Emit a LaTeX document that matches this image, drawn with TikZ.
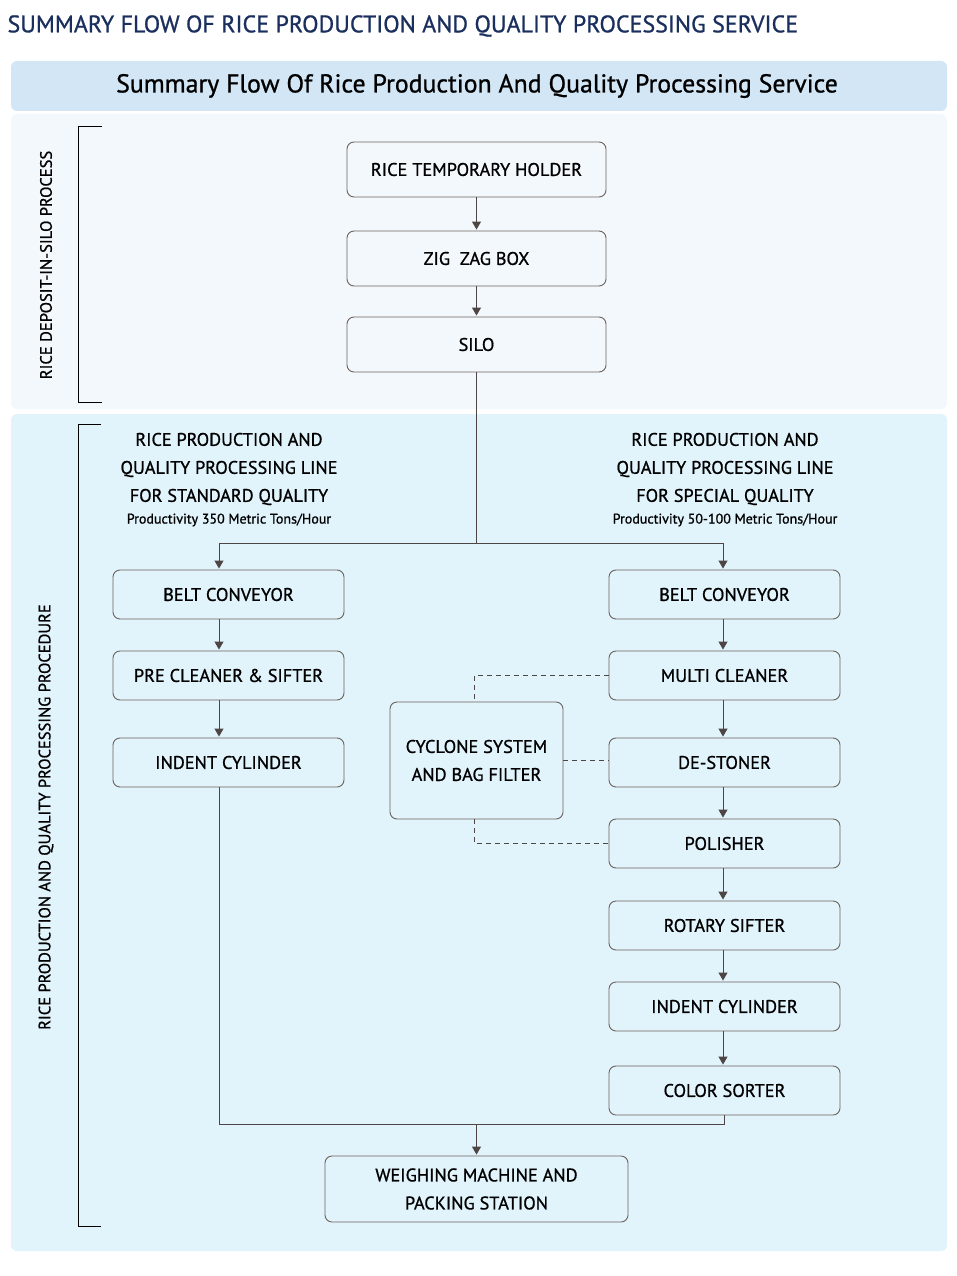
\documentclass[tikz,border=0pt]{standalone}
\usepackage{fontspec}
\setmainfont{PT Sans}[FakeBold=0.9]
\usetikzlibrary{arrows.meta,positioning}
\definecolor{navy}{HTML}{1B2F5E}
\definecolor{hdrblue}{HTML}{D3E6F5}
\definecolor{paleblue}{HTML}{F3F8FD}
\definecolor{skyblue}{HTML}{E1F3FB}
\definecolor{boxline}{HTML}{6E625B}
\definecolor{flowline}{HTML}{4E4644}
\begin{document}
\begin{tikzpicture}[
    x=1pt, y=-1pt,
    stage/.style={
      rectangle, rounded corners=7pt, draw=boxline, line width=0.9pt,
      minimum width=259pt, minimum height=55pt, text=black,
      align=center, font=\fontsize{18.3}{28}\selectfont
    },
    unit/.style={
      stage, minimum width=231pt, minimum height=49pt
    },
    heading/.style={
      align=center, font=\fontsize{18.2}{28}\selectfont
    },
    rate/.style={font=\fontsize{14}{16}\selectfont},
    side/.style={rotate=90, font=\fontsize{16.5}{18}\selectfont},
    bracket/.style={line width=1pt, black},
    link/.style={line width=1pt, flowline},
    flow/.style={link, -{Triangle[length=8pt,width=9pt]}, shorten >=1pt},
    dust/.style={line width=0.9pt, flowline, dash pattern=on 5pt off 4pt}
  ]
    \useasboundingbox (0,0) rectangle (956,1276);

    % title and bands
    \node[anchor=west, text=navy, font=\fontsize{24}{28}\selectfont] (title) at (4,26)
      {SUMMARY FLOW OF RICE PRODUCTION AND QUALITY PROCESSING SERVICE};
    \fill[hdrblue, rounded corners=6pt] (11,61) rectangle (947,111);
    \fill[paleblue, rounded corners=6pt] (11,114) rectangle (947,409);
    \fill[skyblue, rounded corners=6pt] (11,414) rectangle (947,1251);
    \node[font=\fontsize{25.8}{30}\selectfont] (header) at (477,86)
      {Summary Flow Of Rice Production And Quality Processing Service};

    % section brackets
    \draw[bracket] (102,127) -| (78,402) -- (102,402);
    \draw[bracket] (101,424) -| (78,1226) -- (101,1226);
    \node[side] (silolabel) at (46,265) {RICE DEPOSIT-IN-SILO PROCESS};
    \node[side] (proclabel) at (46,817) {RICE PRODUCTION AND QUALITY PROCESSING PROCEDURE};

    % deposit in silo
    \node[stage] (holder) at (476.5,169.5) {RICE TEMPORARY HOLDER};
    \node[stage] (zigzag) at (476.5,258.5) {ZIG\ \ ZAG BOX};
    \node[stage] (silo)   at (476.5,344.5) {SILO};

    % line headings
    \node[heading] (stdhead) at (229,469) {RICE PRODUCTION AND\\QUALITY PROCESSING LINE\\FOR STANDARD QUALITY};
    \node[rate] (stdrate) at (229,520) {Productivity 350 Metric Tons/Hour};
    \node[heading] (sphead) at (725,469) {RICE PRODUCTION AND\\QUALITY PROCESSING LINE\\FOR SPECIAL QUALITY};
    \node[rate] (sprate) at (725,520) {Productivity 50-100 Metric Tons/Hour};

    % standard line
    \node[unit] (lbelt)   at (228.5,594.5) {BELT CONVEYOR};
    \node[unit] (lclean)  at (228.5,675.5) {PRE CLEANER \& SIFTER};
    \node[unit] (lindent) at (228.5,762.5) {INDENT CYLINDER};

    % special line
    \node[unit] (rbelt)   at (724.5,594.5)  {BELT CONVEYOR};
    \node[unit] (rclean)  at (724.5,675.5)  {MULTI CLEANER};
    \node[unit] (stoner)  at (724.5,762.5)  {DE-STONER};
    \node[unit] (polish)  at (724.5,843.5)  {POLISHER};
    \node[unit] (sifter)  at (724.5,925.5)  {ROTARY SIFTER};
    \node[unit] (rindent) at (724.5,1006.5) {INDENT CYLINDER};
    \node[unit] (sorter)  at (724.5,1090.5) {COLOR SORTER};

    \node[stage, minimum width=173pt, minimum height=117pt] (cyclone) at (476.5,760.5)
      {CYCLONE SYSTEM\\AND BAG FILTER};
    \node[stage, minimum width=303pt, minimum height=66pt] (packing) at (476.5,1189)
      {WEIGHING MACHINE AND\\PACKING STATION};

    \coordinate (split) at (476.5,543);
    \coordinate (merge) at (476.5,1124);

    % connectors
    \draw[flow] (holder) -- (zigzag);
    \draw[flow] (zigzag) -- (silo);
    \draw[link] (silo.south) -- (split);
    \draw[flow] (split) -| ([xshift=-9.5pt]lbelt.north);
    \draw[flow] (split) -| ([xshift=-1.5pt]rbelt.north);

    \draw[flow] ([xshift=-9.5pt]lbelt.south) -- ([xshift=-9.5pt]lclean.north);
    \draw[flow] ([xshift=-9.5pt]lclean.south) -- ([xshift=-9.5pt]lindent.north);

    \foreach \a/\b in {rbelt/rclean, rclean/stoner, stoner/polish,
                       polish/sifter, sifter/rindent, rindent/sorter}
      \draw[flow] ([xshift=-1.5pt]\a.south) -- ([xshift=-1.5pt]\b.north);

    \draw[dust] (rclean.west) -| ([xshift=-2pt]cyclone.north);
    \draw[dust] (cyclone.east) -- (cyclone.east -| stoner.west);
    \draw[dust] ([xshift=-2pt]cyclone.south) |- (polish.west);

    \draw[link] ([xshift=-9.5pt]lindent.south) |- (merge) -| (sorter.south);
    \draw[flow] (merge) -- (packing.north);
  \end{tikzpicture}
\end{document}
